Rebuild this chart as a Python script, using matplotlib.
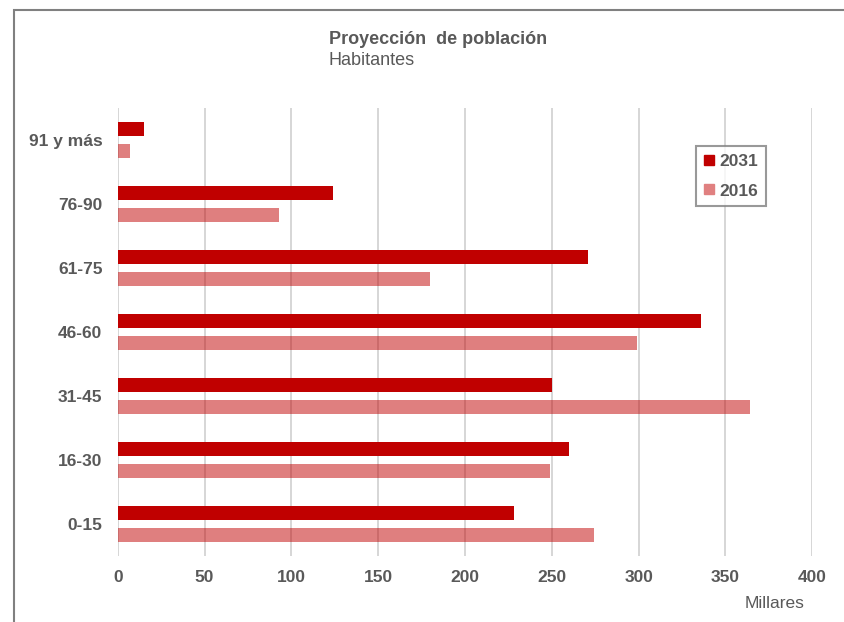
import matplotlib
matplotlib.use('Agg')
import matplotlib.pyplot as plt
from matplotlib.patches import Rectangle
from matplotlib.lines import Line2D
import numpy as np

# Data (miles de habitantes)
categories = ['0-15', '16-30', '31-45', '46-60', '61-75', '76-90', '91 y más']
pob_2031 = [228, 260, 250, 336, 271, 124, 15]
pob_2016 = [274, 249, 364, 299, 180, 93, 7]
x_ticks = [0, 50, 100, 150, 200, 250, 300, 350, 400]

dark_red = '#C00000'
gray_txt = '#595959'
grid_col = '#D3D3D3'

plt.rcParams['font.family'] = ['Liberation Sans', 'DejaVu Sans']

fig = plt.figure(figsize=(8.45, 6.22), dpi=100)
ax = fig.add_axes([117.7 / 845, 1 - 556 / 622, (812.3 - 117.7) / 845, 448 / 622])

# Outer frame of the chart
fig.patches.append(Rectangle((14 / 845, -0.1), 1.2, 1.1 - 10 / 622,
                             transform=fig.transFigure, fill=False,
                             edgecolor='#808080', linewidth=1.5))

y = np.arange(len(categories))
off = 0.172
h = 0.215
ax.barh(y + off, pob_2031, height=h, color=dark_red, label='2031', zorder=3)
ax.barh(y - off, pob_2016, height=h, color=dark_red, alpha=0.5, label='2016', zorder=3)

ax.set_xlim(0, 400)
ax.set_ylim(-0.5, len(categories) - 0.5)
ax.set_xticks(x_ticks)
ax.set_yticks(y)
ax.set_yticklabels(categories)
ax.set_axisbelow(True)
ax.grid(axis='x', color=grid_col, linewidth=1.3)
for s in ax.spines.values():
    s.set_visible(False)
ax.tick_params(axis='both', length=0, labelcolor=gray_txt, labelsize=12.5)
ax.tick_params(axis='x', pad=10)
ax.tick_params(axis='y', pad=11)
for lab in ax.get_xticklabels() + ax.get_yticklabels():
    lab.set_fontweight('bold')

# Legend
handles = [Line2D([], [], marker='s', linestyle='none', markersize=7, color=dark_red),
           Line2D([], [], marker='s', linestyle='none', markersize=7, color='#E08080')]
leg = ax.legend(handles, ['2031', '2016'], loc='upper left',
                bbox_to_anchor=((696 - 117.7) / 694.6, 1 - (145.7 - 108) / 448),
                frameon=True, fancybox=False, handlelength=0.6, handletextpad=0.3,
                borderpad=0.45, labelspacing=0.85, borderaxespad=0,
                prop={'weight': 'bold', 'size': 12.5})
leg.get_frame().set_edgecolor('#808080')
leg.get_frame().set_linewidth(1.5)
for t in leg.get_texts():
    t.set_color(gray_txt)

fig.text(329 / 845, 1 - 44 / 622, 'Proyección  de población', fontsize=13,
         fontweight='bold', color=gray_txt, va='baseline', ha='left')
fig.text(329 / 845, 1 - 65 / 622, 'Habitantes', fontsize=13,
         color=gray_txt, va='baseline', ha='left')
fig.text(775 / 845, 1 - 604 / 622, 'Millares', fontsize=12.5,
         color=gray_txt, va='center', ha='center')

fig.savefig('out.png', dpi=100, facecolor='white')
